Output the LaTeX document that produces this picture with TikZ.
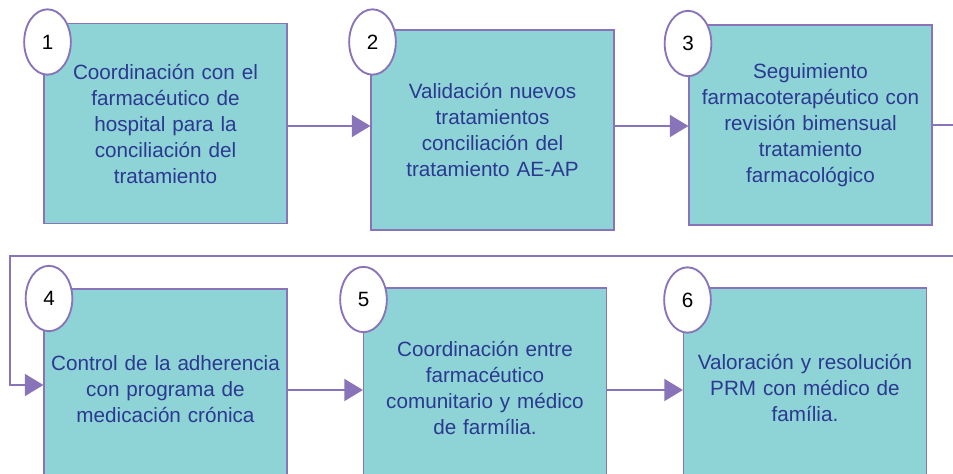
\documentclass[tikz,border=0pt]{standalone}
\usepackage{fontspec}
\setmainfont{Liberation Sans}
\usetikzlibrary{arrows.meta,shapes.geometric}

\definecolor{boxfill}{RGB}{142,211,214}
\definecolor{lilac}{RGB}{137,115,185}
\definecolor{inkblue}{RGB}{43,57,144}

\tikzset{
  stepbox/.style={draw=lilac,line width=1.1pt,fill=boxfill,text=inkblue,
    minimum width=182pt,minimum height=150pt,text width=175pt,align=center,
    inner sep=0pt,font=\fontsize{15.5}{19.5}\selectfont},
  numoval/.style={ellipse,draw=lilac,line width=1.4pt,fill=white,
    minimum width=35pt,minimum height=49pt,inner sep=0pt,
    font=\fontsize{15.5}{18}\selectfont},
  flow/.style={draw=lilac,line width=1.5pt,-{Triangle[length=14pt,width=16.5pt]}}
}

\begin{document}
\begin{tikzpicture}[x=0.75pt,y=0.75pt,yscale=-1,xscale=1]
\useasboundingbox (0,0) rectangle (953,474);
\clip (0,0) rectangle (953,474);

%Shape: Rectangle [boxes, first row]
\node[stepbox] (b1) at (165.5,123.5) {Coordinación con el\\farmacéutico de\\hospital para la\\conciliación del\\tratamiento};
\node[stepbox] (b2) at (492.5,130) {Validación nuevos\\tratamientos\\conciliación del\\tratamiento AE-AP};
\node[stepbox] (b3) at (810.5,125) {Seguimiento\\farmacoterapéutico con\\revisión bimensual\\tratamiento\\farmacológico};
%Shape: Rectangle [boxes, second row]
\node[stepbox] (b4) at (165.5,389) {Control de la adherencia\\con programa de\\medicación crónica};
\node[stepbox] (b5) at (485,388) {Coordinación entre\\farmacéutico\\comunitario y médico\\de farmília.};
\node[stepbox] (b6) at (805,388) {Valoración y resolución\\PRM con médico de\\família.};

%Shape: Ellipse [numbers]
\node[numoval] (n1) at (47.5,42) {1};
\node[numoval] (n2) at (372.5,42) {2};
\node[numoval] (n3) at (688,43.5) {3};
\node[numoval] (n4) at (49,298.5) {4};
\node[numoval] (n5) at (363.5,299.5) {5};
\node[numoval] (n6) at (687.5,300) {6};

%Straight Lines [arrows]
\draw[flow] (b1.east |- 0,126) -- (b2.west |- 0,126);
\draw[flow] (b2.east |- 0,126) -- (b3.west |- 0,126);
\draw[flow] (b3.east |- 0,125) -- (962,125) -- (962,256) -- (10,256) |- (b4.west |- 0,385);
\draw[flow] (b4.east |- 0,390) -- (b5.west |- 0,390);
\draw[flow] (b5.east |- 0,390) -- (b6.west |- 0,390);
\end{tikzpicture}
\end{document}
